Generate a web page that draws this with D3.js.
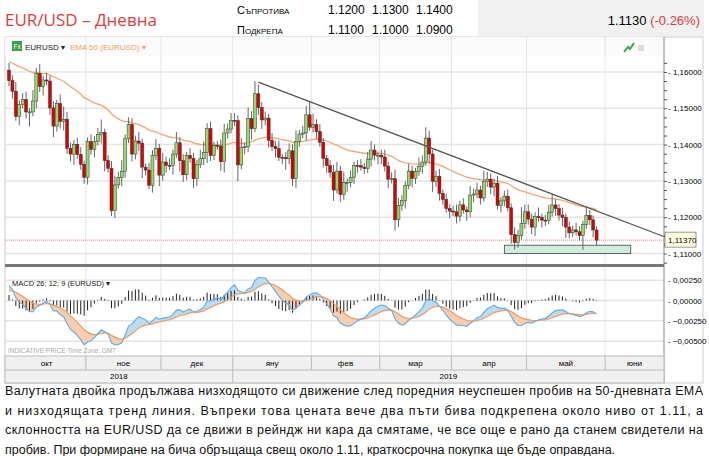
<!DOCTYPE html>
<html><head><meta charset="utf-8">
<script src="https://cdn.jsdelivr.net/npm/d3@7"></script>
<style>
body{margin:0;background:#fff;font-family:"Liberation Sans",Arial,sans-serif}
</style></head>
<body><svg id="chart" width="709" height="456"></svg>
<script>
// daily closes, Oct 1 2018 .. May 29 2019 (weekdays)
const closes = [
 1.1576,1.1547,1.1478,1.1510,1.1524,1.1490,1.1490,1.1520,1.1596,1.1560,1.1578,1.1575,1.1501,1.1451,1.1513,1.1464,1.1470,1.1390,1.1374,1.1401,1.1373,1.1346,1.1310,
 1.1408,1.1387,1.1408,1.1428,1.1434,1.1356,1.1335,1.1218,1.1289,1.1310,1.1327,1.1416,1.1455,1.1374,1.1410,1.1404,1.1338,1.1330,1.1288,1.1370,1.1390,1.1316,
 1.1352,1.1343,1.1342,1.1374,1.1405,1.1356,1.1317,1.1370,1.1362,1.1306,1.1346,1.1361,1.1379,1.1444,1.1370,1.1398,1.1396,1.1353,1.1432,1.1443,1.1467,
 1.1466,1.1344,1.1393,1.1394,1.1472,1.1444,1.1540,1.1502,1.1468,1.1473,1.1412,1.1395,1.1389,1.1365,1.1364,1.1361,1.1383,1.1306,1.1409,1.1429,1.1432,1.1482,1.1448,
 1.1455,1.1436,1.1406,1.1362,1.1342,1.1324,1.1275,1.1327,1.1263,1.1295,1.1295,1.1309,1.1343,1.1342,1.1338,1.1334,1.1360,1.1385,1.1371,1.1371,
 1.1366,1.1341,1.1305,1.1306,1.1193,1.1233,1.1246,1.1287,1.1327,1.1307,1.1326,1.1340,1.1352,1.1418,1.1374,1.1299,1.1313,1.1266,1.1249,1.1224,1.1217,
 1.1215,1.1203,1.1234,1.1220,1.1215,1.1261,1.1264,1.1275,1.1253,1.1298,1.1305,1.1283,1.1294,1.1233,1.1245,1.1258,1.1226,1.1152,1.1131,1.1150,1.1183,1.1215,
 1.1195,1.1173,1.1202,1.1200,1.1192,1.1191,1.1214,1.1234,1.1224,1.1206,1.1200,1.1173,1.1157,1.1165,1.1160,1.1150,1.1180,1.1205,1.1193,1.1165,1.1137
];
// upper / lower wick length beyond the body, in pips
const wickUp = [
 20,15,25,12,18,22,10,30,15,25,12,20,15,18,10,25,35,20,15,12,18,20,10,
 12,20,15,18,35,10,15,20,25,15,30,12,20,18,15,25,12,10,20,15,25,12,
 25,15,20,12,30,15,18,10,20,15,12,25,30,15,20,10,12,18,25,15,20,
 20,15,25,12,30,20,35,25,15,18,12,20,15,22,10,15,20,18,30,12,20,25,35,
 30,15,20,12,10,15,20,25,15,30,12,20,10,15,18,12,20,25,15,10,
 15,20,12,18,25,20,15,12,20,15,10,25,18,30,20,12,15,20,10,15,12,
 15,20,12,18,10,25,15,20,12,30,20,15,12,20,10,15,18,12,20,15,45,20,
 20,15,12,25,10,15,20,30,15,12,20,10,15,12,20,15,10,25,15,12,10
];
const wickDown = [
 15,20,12,25,10,18,40,12,20,15,25,12,20,30,15,20,25,15,20,30,12,15,18,
 20,15,22,10,25,30,12,15,20,10,25,18,12,20,15,22,30,15,10,20,12,30,
 15,20,12,25,10,30,20,15,12,25,20,10,18,30,15,12,10,25,30,15,12,
 15,45,12,20,15,30,10,20,25,15,20,12,25,10,18,30,15,20,25,15,12,20,10,
 15,20,12,25,20,15,30,10,20,15,25,12,18,20,10,15,12,20,15,25,
 20,15,25,12,30,20,15,22,10,25,15,12,20,10,25,30,15,20,15,12,20,
 12,20,15,10,25,15,20,12,18,10,15,20,25,12,20,15,10,25,20,15,12,15,
 15,20,25,12,20,15,10,12,20,15,25,30,15,12,10,15,40,12,15,20,15
];
const firstOpen = 1.1605;
const monthLabels = ["окт","ное","дек","яну","фев","мар","апр","май","юни"];
const yearLabels = ["2018","2019"];
const priceTicks = [1.11,1.12,1.13,1.14,1.15,1.16];
const macdTicks = [0.0025,0,-0.0025,-0.005];
const resistance = ["1.1200","1.1300","1.1400"];
const support = ["1.1100","1.1000","1.0900"];
const lastPrice = 1.1137;
const trend = [[73,1.1572],[193,1.1142]];
const supportZone = {from:145, to:182, lo:1.1100, hi:1.1123};
const emaSeed = 1.1630, ema12Seed = 1.1600, ema26Seed = 1.1578, signalSeed = 0.0010;
const paragraph = [
 "Валутната двойка продължава низходящото си движение след поредния неуспешен пробив на 50-дневната EMA",
 "и низходящата тренд линия. Въпреки това цената вече два пъти бива подкрепена около ниво от 1.11, а",
 "склонността на EUR/USD да се движи в рейндж ни кара да смятаме, че все още е рано да станем свидетели на",
 "пробив. При формиране на бича обръщаща свещ около 1.11, краткосрочна покупка ще бъде оправдана."
];

const days = d3.timeDay.range(new Date(2018,9,1), new Date(2019,5,8)).filter(d => d.getDay()%6 !== 0);
const data = closes.map((c,i) => {
  const o = i ? closes[i-1] : firstOpen;
  return {i, date: days[i], o, c, h: Math.max(o,c)+wickUp[i]/10000, l: Math.min(o,c)-wickDown[i]/10000};
});
function ema(vals, n, seed){ const k=2/(n+1); let e=seed; return vals.map(v => e = v*k + e*(1-k)); }
const ema50 = ema(closes,50,emaSeed);
const e12 = ema(closes,12,ema12Seed), e26 = ema(closes,26,ema26Seed);
const macd = e12.map((v,i)=>v-e26[i]);
const signal = ema(macd,9,signalSeed);

const svg = d3.select("#chart");
const L = 5, R = 664;
const x = d3.scaleLinear().domain([0,173]).range([9,600]);
const y = d3.scaleLinear().domain([1.1074,1.1644]).range([263,56]);
const ym = d3.scaleLinear().domain([-0.0067,0.0040]).range([355,268]);

// header
svg.append("text").attr("x",5).attr("y",26).attr("fill","#e23b3b").attr("font-size",17)
  .attr("font-family","Open Sans").text("EUR/USD – Дневна");
svg.append("rect").attr("x",478).attr("y",0).attr("width",226).attr("height",36).attr("fill","#f1f1f1");
[["Съпротива",resistance,14],["Подкрепа",support,34]].forEach(([lab,vals,yy]) => {
  svg.append("text").attr("x",237).attr("y",yy).attr("font-size",11).style("font-variant","small-caps").text(lab);
  vals.forEach((v,j) => svg.append("text").attr("x",328+j*44).attr("y",yy).attr("font-size",12).text(v));
});
const hp = svg.append("text").attr("x",700).attr("y",25).attr("text-anchor","end").attr("font-size",13);
hp.append("tspan").text("1.1130 ");
hp.append("tspan").attr("fill","#e23b3b").text("(-0.26%)");

// frame
svg.append("rect").attr("x",L).attr("y",37).attr("width",698).attr("height",346).attr("fill","#fff").attr("stroke","#ccc");
svg.append("rect").attr("x",L).attr("y",37).attr("width",R-L).attr("height",19).attr("fill","#fbfbfb");

// month boundaries
const monthStarts = d3.range(9).map(m => {
  const d = new Date(2018, 9+m, 1);
  let k = days.findIndex(t => t >= d);
  return k < 0 ? 173 : k;
});
const bx = monthStarts.map(k => x(k-0.5));
bx.push(R);

const grid = svg.append("g").attr("stroke","#e4e4e4");
bx.slice(1,9).forEach(v => grid.append("line").attr("x1",v).attr("x2",v).attr("y1",37).attr("y2",356));
priceTicks.forEach(v => grid.append("line").attr("x1",L).attr("x2",R).attr("y1",y(v)).attr("y2",y(v)).attr("stroke-width",1.5));
macdTicks.forEach(v => grid.append("line").attr("x1",L).attr("x2",R).attr("y1",ym(v)).attr("y2",ym(v)).attr("stroke-width",1.5));

// toolbar
svg.append("rect").attr("x",12).attr("y",41).attr("width",10).attr("height",10).attr("fill","#3aa14a");
svg.append("text").attr("x",13.5).attr("y",49).attr("font-size",6.5).attr("fill","#fff").text("Fx");
svg.append("text").attr("x",25).attr("y",50).attr("font-size",8).attr("fill","#222").text("EURUSD ▾");
svg.append("text").attr("x",70).attr("y",50).attr("font-size",8).attr("fill","#f0a060").text("EMA 50 (EURUSD) ▾");
svg.append("path").attr("d","M624,52 L628,47 L630,49 L634,43").attr("stroke","#3aa14a").attr("stroke-width",2).attr("fill","none");
svg.append("rect").attr("x",638).attr("y",45).attr("width",6).attr("height",6).attr("fill","#ddd");

// EMA
svg.append("path").datum(ema50).attr("fill","none").attr("stroke","#f4a572").attr("stroke-width",1.3)
  .attr("d", d3.line().x((d,i)=>x(i)).y(d=>y(d)));

// support zone & last price
svg.append("rect").attr("x",x(supportZone.from)).attr("width",x(supportZone.to)-x(supportZone.from))
  .attr("y",y(supportZone.hi)).attr("height",y(supportZone.lo)-y(supportZone.hi))
  .attr("fill","#cdeedd").attr("stroke","#444").attr("stroke-width",0.8);
svg.append("line").attr("x1",L).attr("x2",R).attr("y1",y(lastPrice)).attr("y2",y(lastPrice))
  .attr("stroke","#f08080").attr("stroke-dasharray","1,1");

// candles
const cw = 3;
const cg = svg.append("g");
cg.selectAll("line").data(data).join("line")
  .attr("x1",d=>x(d.i)).attr("x2",d=>x(d.i)).attr("y1",d=>y(d.h)).attr("y2",d=>y(d.l)).attr("stroke","#666");
cg.selectAll("rect").data(data).join("rect")
  .attr("x",d=>x(d.i)-cw/2).attr("width",cw)
  .attr("y",d=>y(Math.max(d.o,d.c))).attr("height",d=>Math.max(1,Math.abs(y(d.o)-y(d.c))))
  .attr("fill",d=>d.c>=d.o?"#8fdc6a":"#e00000").attr("stroke","#333").attr("stroke-width",0.5);

// trend line
svg.append("line").attr("x1",x(trend[0][0])).attr("y1",y(trend[0][1])).attr("x2",x(trend[1][0])).attr("y2",y(trend[1][1]))
  .attr("stroke","#555").attr("stroke-width",1.2);

// price axis
svg.append("line").attr("x1",R).attr("x2",R).attr("y1",37).attr("y2",383).attr("stroke","#888");
const pa = svg.append("g").attr("transform",`translate(${R},0)`)
  .call(d3.axisRight(y).tickValues(d3.range(1.1075,1.1645,0.0025)).tickSize(3).tickFormat(""));
pa.select(".domain").remove(); pa.selectAll("line").attr("stroke","#555");
priceTicks.forEach(v => svg.append("text").attr("x",R+4).attr("y",y(v)+3).attr("font-size",8)
  .text("- " + d3.format(".5f")(v).replace(".",",")));
svg.append("rect").attr("x",R+1).attr("y",y(lastPrice)-8).attr("width",31).attr("height",15)
  .attr("fill","#fffde0").attr("stroke","#555").attr("stroke-width",0.6);
svg.append("text").attr("x",R+4).attr("y",y(lastPrice)+3).attr("font-size",8).text("1,11370");

// separator
svg.append("rect").attr("x",L).attr("y",264).attr("width",R-L).attr("height",3).attr("fill","#777");

// MACD
svg.append("text").attr("x",12).attr("y",286).attr("font-size",7.5).attr("fill","#222").text("MACD 26; 12; 9 (EURUSD) ▾");
const area = d3.area().x((d,i)=>x(i)).y0((d,i)=>ym(signal[i])).y1(d=>ym(d));
const defs = svg.append("defs");
defs.append("clipPath").attr("id","above").append("path").datum(signal)
  .attr("d", d3.area().x((d,i)=>x(i)).y0(268).y1(d=>ym(d)));
defs.append("clipPath").attr("id","below").append("path").datum(signal)
  .attr("d", d3.area().x((d,i)=>x(i)).y0(356).y1(d=>ym(d)));
svg.append("path").datum(macd).attr("d",area).attr("fill","#bcdcf4").attr("clip-path","url(#above)");
svg.append("path").datum(macd).attr("d",area).attr("fill","#f8cdb0").attr("clip-path","url(#below)");
svg.selectAll(".hist").data(macd).join("line").attr("class","hist")
  .attr("x1",(d,i)=>x(i)).attr("x2",(d,i)=>x(i)).attr("y1",ym(0)).attr("y2",(d,i)=>ym(d-signal[i]))
  .attr("stroke","#222").attr("stroke-width",1);
svg.append("path").datum(signal).attr("fill","none").attr("stroke","#f19a5e").attr("stroke-width",1.2)
  .attr("d", d3.line().x((d,i)=>x(i)).y(d=>ym(d)));
svg.append("path").datum(macd).attr("fill","none").attr("stroke","#6aaee0").attr("stroke-width",1.2)
  .attr("d", d3.line().x((d,i)=>x(i)).y(d=>ym(d)));
macdTicks.forEach(v => svg.append("text").attr("x",R+4).attr("y",ym(v)+3).attr("font-size",8)
  .text("- " + d3.format(".5f")(v).replace(".",",")));
svg.append("text").attr("x",8).attr("y",353).attr("font-size",6.5).attr("fill","#aaa").text("INDICATIVE PRICE    Time Zone: GMT");

// time axis
svg.append("rect").attr("x",L).attr("y",356).attr("width",R-L).attr("height",27).attr("fill","#f0f0f0").attr("stroke","#bbb");
svg.append("line").attr("x1",L).attr("x2",R).attr("y1",370).attr("y2",370).attr("stroke","#bbb");
monthLabels.forEach((m,j) => {
  if (j>0) svg.append("line").attr("x1",bx[j]).attr("x2",bx[j]).attr("y1",356).attr("y2",370).attr("stroke","#bbb");
  svg.append("text").attr("x",(bx[j]+bx[j+1])/2).attr("y",366).attr("text-anchor","middle").attr("font-size",8).text(m);
});
svg.append("line").attr("x1",bx[3]).attr("x2",bx[3]).attr("y1",370).attr("y2",383).attr("stroke","#bbb");
svg.append("text").attr("x",(L+bx[3])/2).attr("y",379).attr("text-anchor","middle").attr("font-size",8).text(yearLabels[0]);
svg.append("text").attr("x",(bx[3]+R)/2).attr("y",379).attr("text-anchor","middle").attr("font-size",8).text(yearLabels[1]);

// paragraph
paragraph.forEach((line,j) => {
  const t = svg.append("text").attr("x",5).attr("y",395+j*19.5).attr("font-size",12.5).attr("fill","#111").text(line);
  if (j < paragraph.length-1) t.attr("textLength",698).attr("lengthAdjust","spacing");
});
</script></body></html>
